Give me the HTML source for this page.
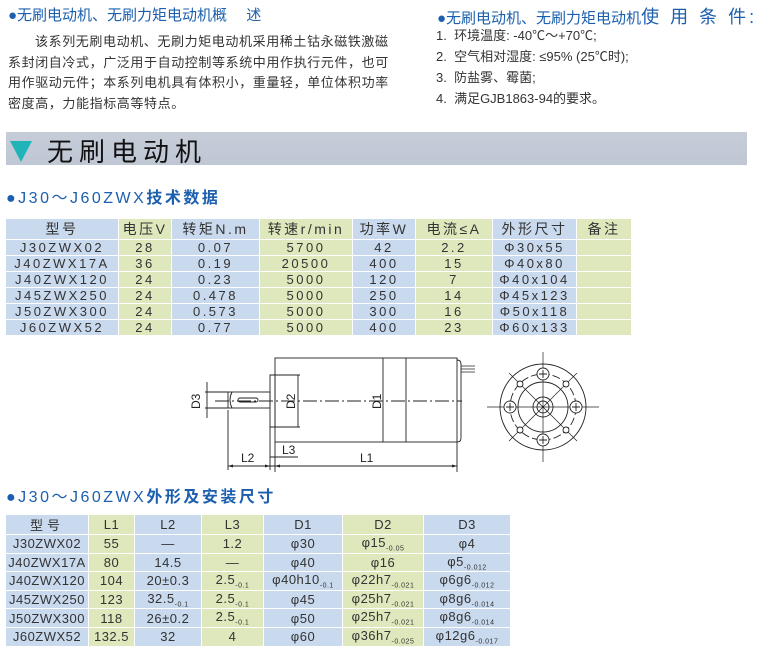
<!DOCTYPE html>
<html><head><meta charset="utf-8"><style>
body{margin:0;width:766px;height:654px;background:#fff;position:relative;overflow:hidden;font-family:"Liberation Sans","Noto Sans CJK SC",sans-serif;color:#333}
.a{position:absolute;white-space:nowrap}
.h{color:#1b5fae;font-size:15px}
.p{font-size:13px;line-height:20.5px;color:#333}
table{position:absolute;border-collapse:collapse;table-layout:fixed;font-size:13px;color:#333}
td{border:1.5px solid #fff;text-align:center;padding:0;overflow:hidden;white-space:nowrap}
.b{background:#c9d9ee}.g{background:#dfe8bd}
#t1 td{letter-spacing:2.5px;height:14.5px}
#t1 tr:first-child td{height:16px;font-size:14px}
#t2 td{height:17px;letter-spacing:0.5px}
#t2 tr:first-child td{height:17px}
sub{font-size:7px}
</style></head><body>
<div class="a h" style="left:8px;top:4px">●无刷电动机、无刷力矩电动机概　 述</div>
<div class="a p" style="left:8px;top:32px;width:384px;white-space:normal;text-indent:27px;letter-spacing:0.6px">该系列无刷电动机、无刷力矩电动机采用稀土钴永磁铁激磁系封闭自冷式，广泛用于自动控制等系统中用作执行元件，也可用作驱动元件；本系列电机具有体积小，重量轻，单位体积功率密度高，力能指标高等特点。</div>
<div class="a h" style="left:437px;top:3px">●无刷电动机、无刷力矩电动机<span style="font-size:18px;letter-spacing:3px">使 用 条 件:</span></div>
<div class="a" style="left:436px;top:25px;font-size:13px;line-height:21px">1.&nbsp; 环境温度: -40℃～+70℃;<br>2.&nbsp; 空气相对湿度: ≤95% (25℃时);<br>3.&nbsp; 防盐雾、霉菌;<br>4.&nbsp; 满足GJB1863-94的要求。</div>
<div class="a" style="left:6px;top:132px;width:741px;height:33px;background:linear-gradient(#c6cdd9,#bfc7d4)"></div>
<div class="a" style="left:10px;top:141px;width:0;height:0;border-left:11px solid transparent;border-right:11px solid transparent;border-top:21px solid #1fb5b8"></div>
<div class="a" style="left:47px;top:132px;font-size:26px;letter-spacing:6px;color:#111">无刷电动机</div>
<div class="a h" style="left:6px;top:184px;font-size:16px;letter-spacing:2.5px">●J30～J60ZWX<b>技术数据</b></div>
<table id="t1" style="left:5px;top:218px;width:626px">
<colgroup><col style="width:113px"><col style="width:53px"><col style="width:88px"><col style="width:93px"><col style="width:63px"><col style="width:77px"><col style="width:84px"><col style="width:55px"></colgroup>
<tr><td class="b">型号</td><td class="g">电压V</td><td class="b">转矩N.m</td><td class="g">转速r/min</td><td class="b">功率W</td><td class="g">电流≤A</td><td class="b">外形尺寸</td><td class="g">备注</td></tr>
<tr><td class="b">J30ZWX02</td><td class="g">28</td><td class="b">0.07</td><td class="g">5700</td><td class="b">42</td><td class="g">2.2</td><td class="b">Φ30x55</td><td class="g"></td></tr>
<tr><td class="b">J40ZWX17A</td><td class="g">36</td><td class="b">0.19</td><td class="g">20500</td><td class="b">400</td><td class="g">15</td><td class="b">Φ40x80</td><td class="g"></td></tr>
<tr><td class="b">J40ZWX120</td><td class="g">24</td><td class="b">0.23</td><td class="g">5000</td><td class="b">120</td><td class="g">7</td><td class="b">Φ40x104</td><td class="g"></td></tr>
<tr><td class="b">J45ZWX250</td><td class="g">24</td><td class="b">0.478</td><td class="g">5000</td><td class="b">250</td><td class="g">14</td><td class="b">Φ45x123</td><td class="g"></td></tr>
<tr><td class="b">J50ZWX300</td><td class="g">24</td><td class="b">0.573</td><td class="g">5000</td><td class="b">300</td><td class="g">16</td><td class="b">Φ50x118</td><td class="g"></td></tr>
<tr><td class="b">J60ZWX52</td><td class="g">24</td><td class="b">0.77</td><td class="g">5000</td><td class="b">400</td><td class="g">23</td><td class="b">Φ60x133</td><td class="g"></td></tr>
</table>
<svg class="a" style="left:0;top:340px" width="766" height="140" viewBox="0 340 766 140" fill="none" stroke="#222" stroke-width="0.9" font-family="Liberation Sans" font-size="12">
<rect x="275" y="358" width="182" height="84"/>
<line x1="383" y1="358" x2="383" y2="442"/><line x1="406" y1="358" x2="406" y2="442"/>
<path d="M457 360 q4 0 4 4 v74 q0 4 -4 4"/>
<path d="M461 366 h14 M461 369 h14 M461 372 h14" stroke-width="0.7"/>
<rect x="270" y="375" width="5" height="52"/>
<path d="M270 375 h30 M270 427 h30 M298 375 v52"/>
<rect x="228" y="392" width="42" height="16"/>
<path d="M232 392 q-4 8 0 16"/>
<rect x="238" y="398" width="20" height="4" rx="2"/>
<line x1="215" y1="401" x2="462" y2="401" stroke-dasharray="14 3 2 3"/>
<path d="M205 392 h23 M205 408 h23 M207 382 v36"/>
<path d="M228 410 v60 M270 427 v43 M275 442 v30 M457 442 v30 M228 466 h229 M270 457 h28"/>
<g fill="#222" stroke="none">
<path d="M228 466 l5 -1.5 v3z M270 466 l-5 -1.5 v3z M275 466 l5 -1.5 v3z M457 466 l-5 -1.5 v3z"/>
<text x="241" y="462">L2</text><text x="282" y="454">L3</text><text x="360" y="462">L1</text>
<text transform="translate(200,409) rotate(-90)">D3</text>
<text transform="translate(295,409) rotate(-90)">D2</text>
<text transform="translate(381,409) rotate(-90)">D1</text>
</g>
<g transform="translate(543,407)">
<circle r="43"/><circle r="25"/><circle r="33" stroke-dasharray="8 3"/><circle r="10"/><circle r="6"/>
<path d="M-56 0 H56 M0 -55 V55 M-34 -34 L34 34 M-34 34 L34 -34" stroke-width="0.7"/>
<g fill="#fff"><circle cx="0" cy="-33" r="6"/><circle cx="0" cy="33" r="6"/><circle cx="-33" cy="0" r="6"/><circle cx="33" cy="0" r="6"/>
<circle cx="-23" cy="-23" r="3"/><circle cx="23" cy="-23" r="3"/><circle cx="-23" cy="23" r="3"/><circle cx="23" cy="23" r="3"/></g>
<path d="M-4 -33 h8 M0 -37 v8 M-4 33 h8 M0 29 v8 M-37 0 h8 M-33 -4 v8 M29 0 h8 M33 -4 v8"/>
</g>
</svg>
<div class="a h" style="left:6px;top:483px;font-size:16px;letter-spacing:2.5px">●J30～J60ZWX<b>外形及安装尺寸</b></div>
<table id="t2" style="left:5px;top:514px;width:505px">
<colgroup><col style="width:83px"><col style="width:46px"><col style="width:67px"><col style="width:62px"><col style="width:79px"><col style="width:81px"><col style="width:87px"></colgroup>
<tr><td class="b" style="letter-spacing:4px">型号</td><td class="g">L1</td><td class="b">L2</td><td class="g">L3</td><td class="b">D1</td><td class="g">D2</td><td class="b">D3</td></tr>
<tr><td class="b">J30ZWX02</td><td class="g">55</td><td class="b">—</td><td class="g">1.2</td><td class="b">φ30</td><td class="g">φ15<sub>-0.05</sub></td><td class="b">φ4</td></tr>
<tr><td class="b">J40ZWX17A</td><td class="g">80</td><td class="b">14.5</td><td class="g">—</td><td class="b">φ40</td><td class="g">φ16</td><td class="b">φ5<sub>-0.012</sub></td></tr>
<tr><td class="b">J40ZWX120</td><td class="g">104</td><td class="b">20±0.3</td><td class="g">2.5<sub>-0.1</sub></td><td class="b">φ40h10<sub>-0.1</sub></td><td class="g">φ22h7<sub>-0.021</sub></td><td class="b">φ6g6<sub>-0.012</sub></td></tr>
<tr><td class="b">J45ZWX250</td><td class="g">123</td><td class="b">32.5<sub>-0.1</sub></td><td class="g">2.5<sub>-0.1</sub></td><td class="b">φ45</td><td class="g">φ25h7<sub>-0.021</sub></td><td class="b">φ8g6<sub>-0.014</sub></td></tr>
<tr><td class="b">J50ZWX300</td><td class="g">118</td><td class="b">26±0.2</td><td class="g">2.5<sub>-0.1</sub></td><td class="b">φ50</td><td class="g">φ25h7<sub>-0.021</sub></td><td class="b">φ8g6<sub>-0.014</sub></td></tr>
<tr><td class="b">J60ZWX52</td><td class="g">132.5</td><td class="b">32</td><td class="g">4</td><td class="b">φ60</td><td class="g">φ36h7<sub>-0.025</sub></td><td class="b">φ12g6<sub>-0.017</sub></td></tr>
</table>
</body></html>
